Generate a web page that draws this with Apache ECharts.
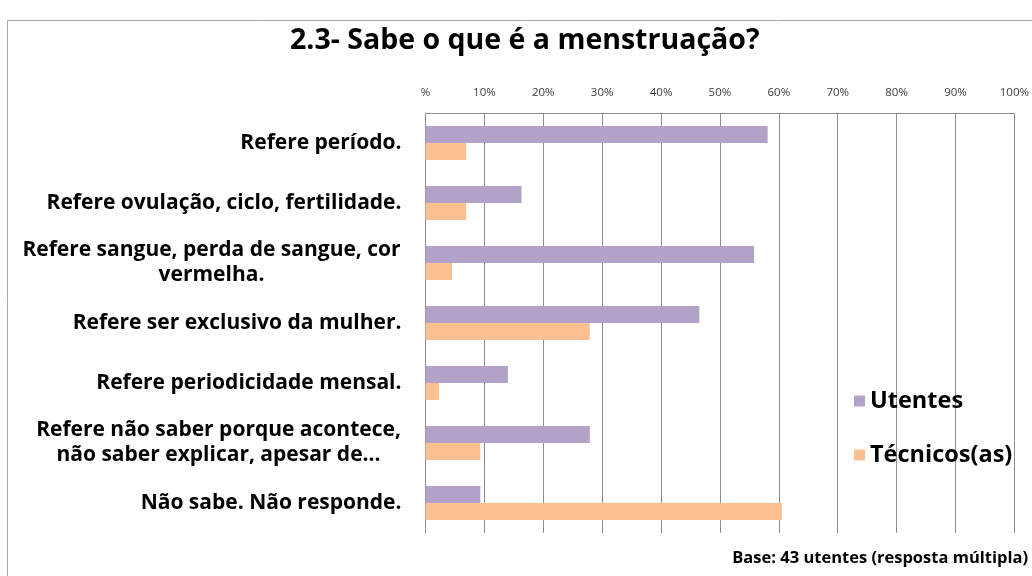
<!DOCTYPE html>
<html>
<head>
<meta charset="utf-8">
<script src="https://cdn.jsdelivr.net/npm/echarts@6/dist/echarts.min.js"></script>
<style>
    html, body { margin: 0; padding: 0; background: #fff; }
    #chart { width: 1032px; height: 576px; }
</style>
</head>
<body>
<div id="chart"></div>
<script>
// categorias (de cima para baixo)
var categorias = [
    'Refere período.',
    'Refere ovulação, ciclo, fertilidade.',
    'Refere sangue, perda de sangue, cor\nvermelha.',
    'Refere ser exclusivo da mulher.',
    'Refere periodicidade mensal.',
    'Refere não saber porque acontece,\nnão saber explicar, apesar de...',
    'Não sabe. Não responde.'
];
var utentes = [58.1, 16.3, 55.8, 46.5, 14.0, 27.9, 9.3];
var tecnicos = [6.9, 6.9, 4.5, 27.9, 2.3, 9.3, 60.5];
var seriesNames = ['Utentes', 'Técnicos(as)'];
var tickLabels = ['%', '10%', '20%', '30%', '40%', '50%', '60%', '70%', '80%', '90%', '100%'];

var fontLbl = 'bold 21px "Open Sans"';

window.onload = function () {
    var chart = echarts.init(document.getElementById('chart'));

    // medir a largura das linhas para centrar os rótulos de duas linhas
    var ctx = document.createElement('canvas').getContext('2d');
    ctx.font = fontLbl;
    var rich = {};
    for (var i = 0; i < categorias.length; i++) {
        var lines = categorias[i].split('\n');
        var w = 0;
        for (var j = 0; j < lines.length; j++) {
            w = Math.max(w, ctx.measureText(lines[j]).width);
        }
        rich['c' + i] = { width: Math.ceil(w) + 1, align: 'center', lineHeight: 25 };
    }

    var option = {
        backgroundColor: '#fff',
        animation: false,
        textStyle: { fontFamily: 'Open Sans' },
        title: {
            text: '2.3- Sabe o que é a menstruação?',
            left: 285,
            top: 21,
            textStyle: { fontSize: 28.5, fontWeight: 'bold', color: '#000', fontFamily: 'Open Sans' }
        },
        legend: {
            data: seriesNames,
            orient: 'vertical',
            left: 849,
            top: 384,
            itemWidth: 11,
            itemHeight: 11,
            itemGap: 30,
            icon: 'rect',
            textStyle: { fontSize: 23.5, fontWeight: 'bold', color: '#000', lineHeight: 24 }
        },
        grid: {
            left: 425.5,
            right: 14,
            top: 113,
            bottom: 43
        },
        xAxis: {
            type: 'value',
            position: 'top',
            min: 0,
            max: 100,
            interval: 10,
            axisLine: { show: true, lineStyle: { color: '#8c8c8c' } },
            axisTick: { show: false },
            splitLine: { show: true, lineStyle: { color: '#8c8c8c', width: 1 } },
            axisLabel: {
                margin: 14,
                fontSize: 11.5,
                color: '#404040',
                formatter: function (v) { return tickLabels[Math.round(v / 10)]; }
            }
        },
        yAxis: {
            type: 'category',
            inverse: true,
            data: categorias,
            axisLine: { show: true, lineStyle: { color: '#8c8c8c' } },
            axisTick: { show: false },
            axisLabel: {
                margin: 24,
                fontSize: 21,
                fontWeight: 'bold',
                color: '#000',
                lineHeight: 25,
                rich: rich,
                formatter: function (v, idx) {
                    var lines = v.split('\n');
                    if (lines.length === 1) return v;
                    return lines.map(function (l) { return '{c' + idx + '|' + l + '}'; }).join('\n');
                }
            }
        },
        series: [
            {
                name: seriesNames[0],
                type: 'bar',
                data: utentes,
                barWidth: 17,
                barGap: '0%',
                itemStyle: { color: '#b3a2c7' }
            },
            {
                name: seriesNames[1],
                type: 'bar',
                data: tecnicos,
                barWidth: 17,
                barGap: '0%',
                itemStyle: { color: '#fac090' }
            }
        ],
        graphic: [
            {
                type: 'rect',
                shape: { x: 7.5, y: 20.5, width: 1100, height: 700 },
                style: { fill: 'none', stroke: '#a6a6a6', lineWidth: 1 },
                silent: true
            },
            {
                type: 'text',
                right: 4,
                top: 550,
                style: {
                    text: 'Base: 43 utentes (resposta múltipla)',
                    font: 'bold 16.5px "Open Sans"',
                    fill: '#000'
                }
            }
        ]
    };
    chart.setOption(option);
};
</script>
</body>
</html>
